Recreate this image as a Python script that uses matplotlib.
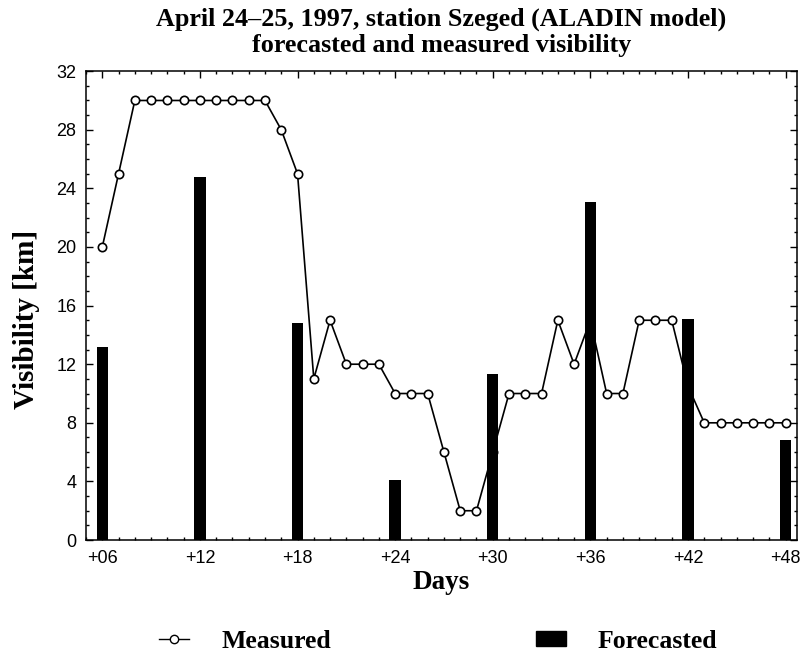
import matplotlib
matplotlib.use("Agg")
import matplotlib.pyplot as plt
from matplotlib.ticker import MultipleLocator, FixedLocator
from matplotlib.lines import Line2D
from matplotlib.patches import Patch

# measured visibility, hourly from +06 to +48 (km)
hours = list(range(6, 49))
measured = [20, 25, 30, 30, 30, 30, 30, 30, 30, 30, 30, 28, 25,
            11, 15, 12, 12, 12, 10, 10, 10, 6, 2, 2, 6, 10, 10, 10,
            15, 12, 15, 10, 10, 15, 15, 15, 10.5, 8, 8, 8, 8, 8, 8]

# forecasted visibility every 6 hours
fc_hours = [6, 12, 18, 24, 30, 36, 42, 48]
forecast = [13.2, 24.8, 14.8, 4.1, 11.3, 23.1, 15.1, 6.8]
tick_labels = ["+06", "+12", "+18", "+24", "+30", "+36", "+42", "+48"]

serif = "Liberation Serif"
sans = "Liberation Sans"

fig = plt.figure(figsize=(8.01, 6.53), dpi=100)
ax = fig.add_axes([0.1074, 0.173, 0.8876, 0.718])

ax.plot(hours, measured, color="black", lw=1.2, marker="o", ms=6,
        mfc="white", mec="black", mew=1.2, zorder=2)
ax.bar(fc_hours, forecast, width=0.7, color="black", zorder=3)

ax.set_xlim(5.0, 48.7)
ax.set_ylim(0, 32)
ax.xaxis.set_major_locator(FixedLocator(fc_hours))
ax.xaxis.set_minor_locator(MultipleLocator(1))
ax.yaxis.set_major_locator(MultipleLocator(4))
ax.yaxis.set_minor_locator(MultipleLocator(1))
ax.set_xticklabels(tick_labels)
ax.tick_params(which="both", direction="in", top=True, right=True,
               labelsize=13, width=1)
ax.tick_params(which="major", length=5, pad=7)
ax.tick_params(which="minor", length=2.5)
for lab in ax.get_xticklabels() + ax.get_yticklabels():
    lab.set_fontfamily(sans)
for s in ax.spines.values():
    s.set_linewidth(1.1)

ax.set_title("April 24\u201325, 1997, station Szeged (ALADIN model)\n"
             "forecasted and measured visibility",
             fontfamily=serif, fontweight="bold", fontsize=18.8,
             linespacing=1.17, pad=14)
ax.set_xlabel("Days", fontfamily=serif, fontweight="bold", fontsize=19.5,
              labelpad=2)
ax.set_ylabel("Visibility [km]", fontfamily=serif, fontweight="bold",
              fontsize=21)
ax.yaxis.set_label_coords(-0.065, 0.471)

handles = [Line2D([], [], color="black", lw=1, marker="o", ms=6,
                  mfc="white", mec="black"),
           Patch(facecolor="black", edgecolor="black")]
fig.legend(handles, ["Measured", "Forecasted"], loc="center",
           bbox_to_anchor=(438.5 / 801, 12 / 653), ncol=2, frameon=False,
           handlelength=1.15, handleheight=0.55, handletextpad=1.25,
           columnspacing=8.0,
           prop={"family": serif, "weight": "bold", "size": 18.5})

fig.savefig("out.png", dpi=100)
